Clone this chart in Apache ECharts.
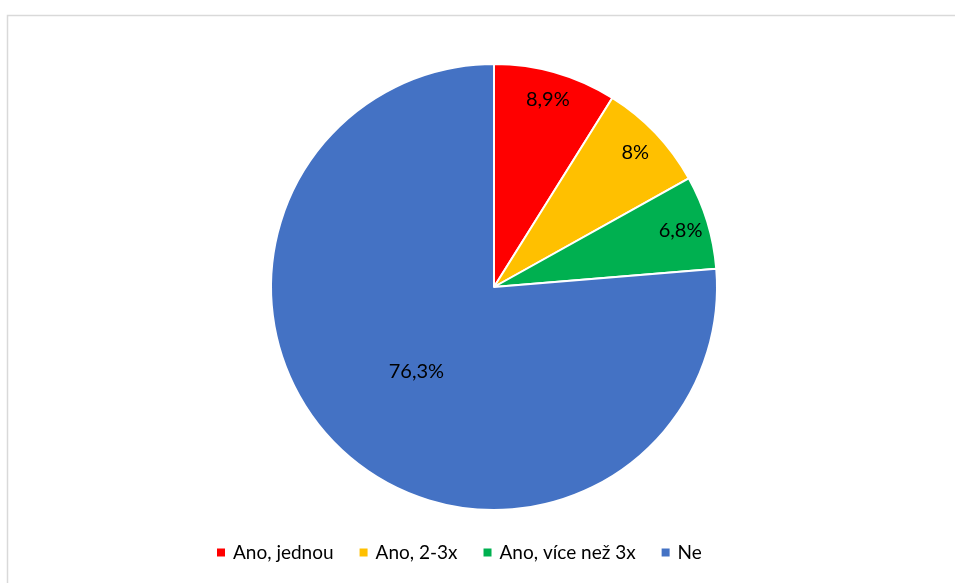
<!DOCTYPE html>
<html>
<head>
<meta charset="utf-8">
<script src="https://cdn.jsdelivr.net/npm/echarts@6/dist/echarts.min.js"></script>
<style>
  html, body { margin: 0; padding: 0; background: #fff; }
  #chart { width: 955px; height: 583px; }
</style>
</head>
<body>
<div id="chart"></div>
<script>
// odpovědi a podíly (%)
var categories = ['Ano, jednou', 'Ano, 2-3x', 'Ano, více než 3x', 'Ne'];
var shares = [8.9, 8, 6.8, 76.3];
var colors = ['#FF0000', '#FFC000', '#00B050', '#4472C4'];

var chart = echarts.init(document.getElementById('chart'));
var fontFam = 'Lato, "Open Sans", sans-serif';

function fmt(p) {
  return String(p.value).replace('.', ',') + '%';
}

var mainData = categories.map(function (c, i) {
  return {
    name: c,
    value: shares[i],
    itemStyle: { color: colors[i] },
    label: { show: i === 3 }
  };
});
// jen popisky malých výsečí, posunuté blíž k okraji
var labelData = categories.map(function (c, i) {
  return {
    name: c,
    value: shares[i],
    label: { show: i !== 3 }
  };
});

var option = {
  backgroundColor: '#fff',
  color: colors,
  animation: false,
  graphic: [{
    type: 'rect',
    shape: { x: 7.5, y: 15.5, width: 1000, height: 620 },
    style: { fill: 'none', stroke: '#d9d9d9', lineWidth: 1.5 },
    silent: true
  }],
  legend: {
    bottom: 16,
    left: 210,
    data: categories,
    icon: 'rect',
    itemWidth: 10,
    itemHeight: 10,
    itemGap: 24,
    textStyle: {
      color: '#000',
      fontSize: 19,
      fontFamily: fontFam,
      padding: [0, 0, 0, 2]
    }
  },
  series: [{
      name: 'hlavni',
      type: 'pie',
      center: [494, 287],
      radius: [0, 223],
      startAngle: 90,
      clockwise: true,
      avoidLabelOverlap: false,
      itemStyle: { borderColor: '#fff', borderWidth: 2 },
      label: {
        position: 'inside',
        formatter: fmt,
        color: '#000',
        fontSize: 20,
        fontFamily: fontFam
      },
      labelLine: { show: false },
      emphasis: { disabled: true },
      data: mainData
    },
    {
      name: 'popisky',
      type: 'pie',
      center: [494, 287],
      radius: [161, 223],
      startAngle: 90,
      clockwise: true,
      silent: true,
      avoidLabelOverlap: false,
      itemStyle: { color: 'rgba(0,0,0,0)', borderWidth: 0 },
      label: {
        position: 'inside',
        formatter: fmt,
        color: '#000',
        fontSize: 20,
        fontFamily: fontFam
      },
      labelLine: { show: false },
      emphasis: { disabled: true },
      data: labelData
    }
  ]
};
chart.setOption(option);
</script>
</body>
</html>
